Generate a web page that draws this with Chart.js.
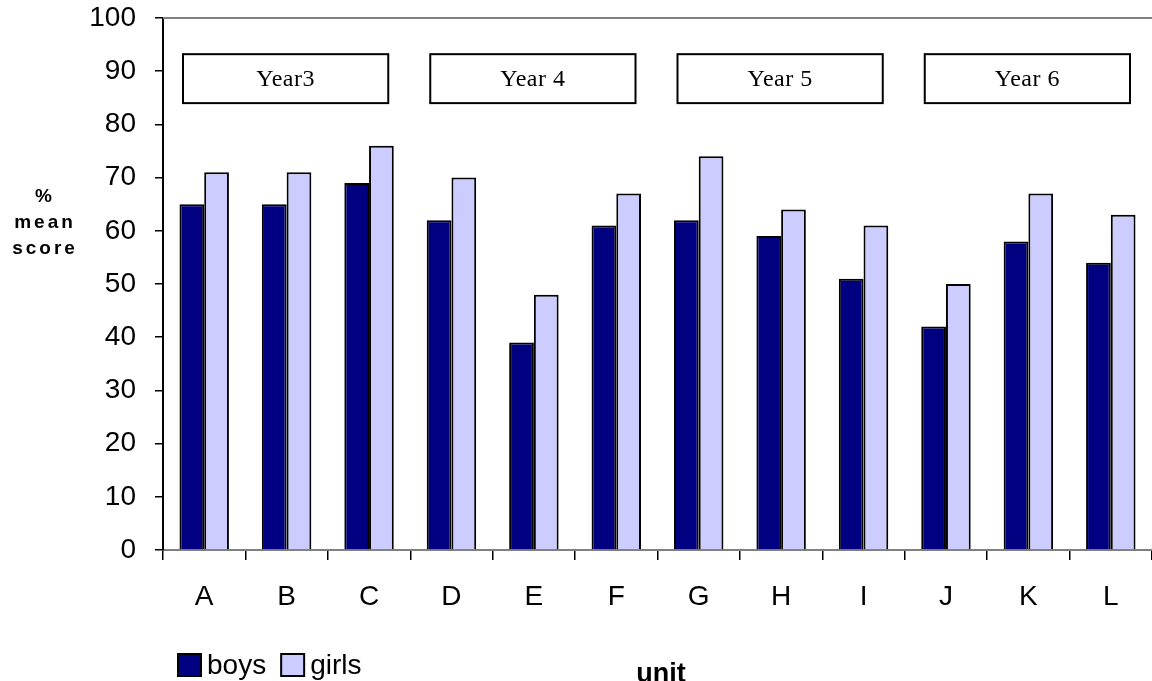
<!DOCTYPE html>
<html><head><meta charset="utf-8">
<script src="https://cdn.jsdelivr.net/npm/chart.js@4"></script>
<style>html,body{margin:0;padding:0;background:#fff;overflow:hidden}#wrap{width:1152px;height:681px}</style>
</head><body><div id="wrap"><canvas id="c" width="1152" height="681"></canvas></div>
<script>
const categories = ['A','B','C','D','E','F','G','H','I','J','K','L'];
const boys  = [65, 65, 69, 62, 39, 61, 62, 59, 51, 42, 58, 54];
const girls = [71, 71, 76, 70, 48, 67, 74, 64, 61, 50, 67, 63];
const seriesNames = ['boys', 'girls'];
const yMin = 0, yMax = 100, yStep = 10;
const yearLabels = ['Year3', 'Year 4', 'Year 5', 'Year 6'];
const unitsPerYear = 3;
const yAxisTitle = ['%', 'mean', 'score'];
const xAxisTitle = 'unit';

const SANS = 'Arial, "Liberation Sans", sans-serif';
const SERIF = '"Times New Roman", "Liberation Serif", serif';

const extras = {
  id: 'extras',
  afterDraw(chart) {
    const ctx = chart.ctx, a = chart.chartArea;
    const xs = chart.scales.x, ys = chart.scales.y;
    ctx.save();
    // top frame line
    ctx.strokeStyle = '#808080'; ctx.lineWidth = 2;
    ctx.beginPath(); ctx.moveTo(a.left, a.top); ctx.lineTo(chart.width, a.top); ctx.stroke();

    // year boxes
    const catW = (a.right - a.left) / categories.length;
    yearLabels.forEach((lab, i) => {
      const first = i * unitsPerYear, last = first + unitsPerYear - 1;
      const xL = xs.getPixelForValue(first) - catW / 2 + 20;
      const xR = xs.getPixelForValue(last) + catW / 2 - 22;
      const yT = ys.getPixelForValue(93.2), yB = ys.getPixelForValue(84);
      ctx.fillStyle = '#fff'; ctx.fillRect(xL, yT, xR - xL, yB - yT);
      ctx.strokeStyle = '#000'; ctx.lineWidth = 2;
      ctx.strokeRect(xL, yT, xR - xL, yB - yT);
      ctx.fillStyle = '#000';
      ctx.font = '24px ' + SERIF;
      ctx.letterSpacing = '0.5px';
      ctx.textAlign = 'center'; ctx.textBaseline = 'middle';
      ctx.fillText(lab, (xL + xR) / 2, (yT + yB) / 2 + 1);
    });

    // y axis title
    ctx.font = 'bold 19px ' + SANS;
    ctx.letterSpacing = '3px';
    ctx.textAlign = 'center'; ctx.textBaseline = 'middle';
    ctx.fillStyle = '#000';
    const ty = [197, 223, 249];
    yAxisTitle.forEach((t, i) => ctx.fillText(t, 45, ty[i]));

    // x axis title
    ctx.letterSpacing = '0px';
    ctx.font = 'bold 27px ' + SANS;
    ctx.textAlign = 'center'; ctx.textBaseline = 'middle';
    ctx.fillText(xAxisTitle, 661, 675);

    // legend
    ctx.font = '28px ' + SANS;
    ctx.textAlign = 'left'; ctx.textBaseline = 'middle';
    let lx = 178;
    const ly = 654;
    chart.data.datasets.forEach((ds, i) => {
      ctx.fillStyle = ds.backgroundColor;
      ctx.fillRect(lx, ly, 23, 22);
      ctx.strokeStyle = '#000'; ctx.lineWidth = 2;
      ctx.strokeRect(lx, ly, 23, 22);
      ctx.fillStyle = '#000';
      ctx.fillText(ds.label, lx + 29, ly + 12);
      lx += 29 + ctx.measureText(ds.label).width + 15;
    });
    ctx.restore();
  }
};

new Chart(document.getElementById('c'), {
  type: 'bar',
  data: {
    labels: categories,
    datasets: [
      { label: seriesNames[0], data: boys, backgroundColor: '#000080', borderColor: '#000', borderWidth: 2,
        categoryPercentage: 0.6, barPercentage: 1.0 },
      { label: seriesNames[1], data: girls, backgroundColor: '#CCCCFF', borderColor: '#000', borderWidth: 2,
        categoryPercentage: 0.6, barPercentage: 1.0 }
    ]
  },
  options: {
    responsive: false,
    animation: false,
    devicePixelRatio: 1,
    layout: { padding: { left: 0, right: 0, top: 18, bottom: 0 } },
    plugins: { legend: { display: false }, tooltip: { enabled: false } },
    scales: {
      x: {
        offset: true,
        grid: { display: true, drawOnChartArea: false, drawTicks: true, tickLength: 10, color: '#000', lineWidth: 1.5, offset: true },
        border: { display: true, color: '#808080', width: 2 },
        ticks: { color: '#000', font: { size: 28, family: SANS }, padding: 20, maxRotation: 0, autoSkip: false },
        title: { display: false },
        afterFit: s => { s.height = 131; s.paddingLeft = 0; s.paddingRight = 0; }
      },
      y: {
        min: yMin, max: yMax,
        ticks: { stepSize: yStep, color: '#000', font: { size: 28, family: SANS }, padding: 19 },
        grid: { display: true, drawOnChartArea: false, drawTicks: true, tickLength: 8, color: '#000', lineWidth: 1.5 },
        border: { display: true, color: '#000', width: 2 },
        afterFit: s => { s.width = 163; s.paddingTop = 0; s.paddingBottom = 0; }
      }
    }
  },
  plugins: [extras]
});
</script></body></html>
